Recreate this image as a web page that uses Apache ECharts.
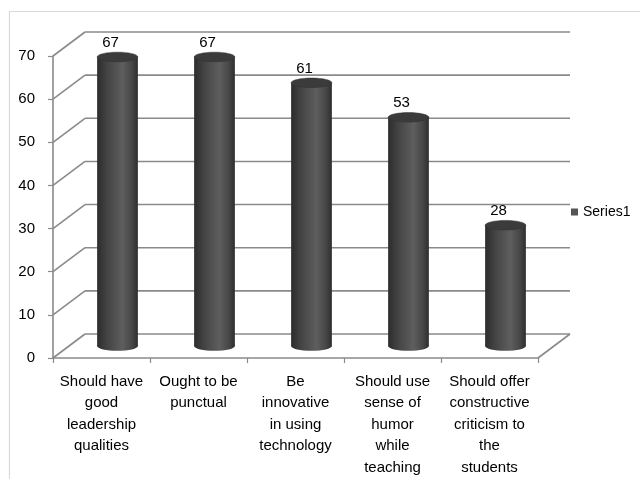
<!DOCTYPE html>
<html>
<head>
<meta charset="utf-8">
<script src="https://cdn.jsdelivr.net/npm/echarts@6/dist/echarts.min.js"></script>
<style>html,body{margin:0;padding:0;background:#fff;}#c{width:640px;height:479px;}</style>
</head>
<body>
<div id="c"></div>
<script>
var categories = [
  'Should have\ngood\nleadership\nqualities',
  'Ought to be\npunctual',
  'Be\ninnovative\nin using\ntechnology',
  'Should use\nsense of\nhumor\nwhile\nteaching',
  'Should offer\nconstructive\ncriticism to\nthe\nstudents'
];
var seriesName = 'Series1';
var values = [67, 67, 61, 53, 28];
var yTicks = [0, 10, 20, 30, 40, 50, 60, 70];

var DX = 32, DY = -24;      // depth offset of the 3D frame (pixels)
var FONT = 'Liberation Sans';
var GRID_COLOR = '#8a8a8a';

var chart = echarts.init(document.getElementById('c'), null, {renderer: 'canvas'});

function frameItem(params, api) {
  var v = api.value(0);
  var band = api.size([1, 0])[0];
  var pL = api.coord([0, v]);
  var pR = api.coord([categories.length - 1, v]);
  var lx = pL[0] - band / 2, rx = pR[0] + band / 2, y = pL[1];
  var st = {stroke: GRID_COLOR, lineWidth: 1.6};
  var children = [
    {type: 'line', shape: {x1: lx + DX, y1: y + DY, x2: rx + DX, y2: y + DY}, style: st},
    {type: 'line', shape: {x1: lx, y1: y, x2: lx + DX, y2: y + DY}, style: st}
  ];
  if (v === 0) {
    children.push({type: 'line', shape: {x1: rx, y1: y, x2: rx + DX, y2: y + DY}, style: st});
  }
  return {type: 'group', children: children};
}

function cylItem(params, api) {
  var idx = api.value(0), val = api.value(1);
  var band = api.size([1, 0])[0];
  var b = api.coord([idx, 0]);
  var t = api.coord([idx, val]);
  var cx = b[0] + DX / 2;
  var by = b[1] + DY / 2;
  var ty = t[1] + DY / 2;
  var w = band * 0.42, rx = w / 2, ry = 4.8;
  var grad = new echarts.graphic.LinearGradient(0, 0, 1, 0, [
    {offset: 0, color: '#2c2c2c'},
    {offset: 0.25, color: '#444444'},
    {offset: 0.62, color: '#5e5e5e'},
    {offset: 0.85, color: '#474747'},
    {offset: 1, color: '#2e2e2e'}
  ]);
  return {
    type: 'group',
    children: [
      {type: 'ellipse', shape: {cx: cx, cy: by, rx: rx, ry: ry}, style: {fill: grad}},
      {type: 'rect', shape: {x: cx - rx, y: ty, width: w, height: by - ty}, style: {fill: grad}},
      {type: 'ellipse', shape: {cx: cx, cy: ty, rx: rx, ry: ry}, style: {fill: '#3b3b3b', stroke: '#333', lineWidth: 0.5}},
      {type: 'text', style: {text: String(val), x: cx - 7, y: ty - 14, fill: '#000',
        font: '15px "' + FONT + '"', textAlign: 'center', textVerticalAlign: 'middle'}}
    ]
  };
}

chart.setOption({
  animation: false,
  backgroundColor: '#fff',
  textStyle: {fontFamily: FONT},
  graphic: [{
    type: 'rect', left: 7, top: 9, shape: {width: 640, height: 480},
    style: {fill: 'none', stroke: '#d9d9d9', lineWidth: 1.2}, z: -10
  }],
  legend: {
    data: [seriesName], left: 566, top: 200, icon: 'rect', itemWidth: 7, itemHeight: 7, itemGap: 4,
    textStyle: {fontSize: 14, color: '#000', fontFamily: FONT}
  },
  grid: {left: 53, top: 56, width: 485, height: 302},
  xAxis: {
    type: 'category', data: categories,
    axisLine: {lineStyle: {color: GRID_COLOR, width: 1.6}},
    axisTick: {show: true, length: 5, lineStyle: {color: GRID_COLOR, width: 1.2}},
    axisLabel: {interval: 0, color: '#000', fontSize: 15, lineHeight: 21.5, margin: 13, fontFamily: FONT},
    splitLine: {show: false}
  },
  yAxis: {
    type: 'value', min: 0, max: 70, interval: 10,
    axisLine: {show: true, lineStyle: {color: GRID_COLOR, width: 1.6}},
    axisTick: {show: true, length: 5, lineStyle: {color: GRID_COLOR, width: 1.2}},
    axisLabel: {color: '#000', fontSize: 15, margin: 18, fontFamily: FONT},
    splitLine: {show: false}
  },
  series: [
    {
      type: 'custom', renderItem: frameItem, silent: true,
      data: yTicks.map(function (v) { return [v]; }),
      encode: {y: 0}, z: 1
    },
    {
      name: seriesName, type: 'custom', renderItem: cylItem,
      itemStyle: {color: '#555555'},
      data: values.map(function (v, i) { return [i, v]; }),
      encode: {x: 0, y: 1}, z: 3
    }
  ]
});
</script>
</body>
</html>
